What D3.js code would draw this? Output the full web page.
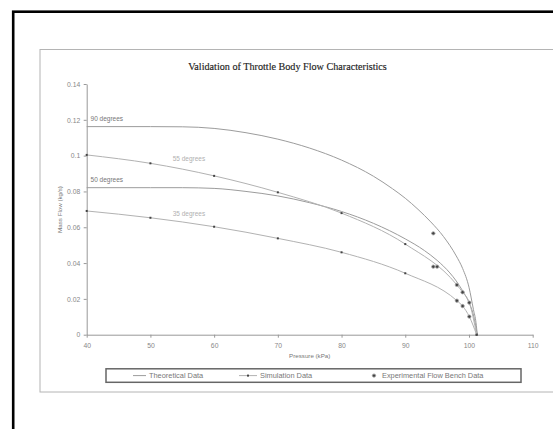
<!DOCTYPE html>
<html>
<head>
<meta charset="utf-8">
<script src="https://cdn.jsdelivr.net/npm/d3@7/dist/d3.min.js"></script>
<style>
  html, body { margin: 0; padding: 0; background: #fff; }
  svg { display: block; }
  text { -webkit-font-smoothing: antialiased; }
</style>
</head>
<body>
<svg id="chart" width="553" height="429"></svg>
<script>
// Pressure (kPa) vs mass flow (kg/s)
const theory90 = [[40,0.1162],[50,0.1162],[55,0.1161],[60,0.1152],[65,0.1128],[70,0.1092],[75,0.1042],[80,0.0975],[85,0.0885],[88,0.0815],[90,0.0762],[92,0.0700],[94,0.0630],[96,0.0548],[98,0.0440],[99,0.0370],[100,0.0265],[100.7,0.0140],[101.1,0.0068],[101.3,0]];
const theory50 = [[40,0.0821],[50,0.0821],[55,0.0821],[60,0.0817],[65,0.0800],[70,0.0775],[75,0.0737],[80,0.0688],[85,0.0622],[90,0.0535],[93,0.0470],[95,0.0415],[97,0.0345],[98,0.0300],[99,0.0245],[100,0.0180],[100.7,0.0110],[101.3,0]];
const simUpper = [[40,0.1004],[50,0.0957],[60,0.0887],[70,0.0795],[80,0.0679],[90,0.0506],[98.1,0.0278],[99,0.0237],[100.05,0.0179],[101.2,0]];
const simLower = [[40,0.0691],[50,0.0653],[60,0.0603],[70,0.0538],[80,0.0460],[90,0.0343],[98.1,0.0190],[99,0.0160],[100.05,0.0101],[101.2,0]];
const experimental = [[94.4,0.0566],[94.4,0.0380],[95.0,0.0380],[98.1,0.0278],[99.0,0.0237],[100.05,0.0179],[98.1,0.0190],[99.0,0.0160],[100.05,0.0101]];

const xTicks = [40,50,60,70,80,90,100,110];
const yTicks = [0,0.02,0.04,0.06,0.08,0.1,0.12,0.14];
const yTickLabels = ["0","0.02","0.04","0.06","0.08","0.1","0.12","0.14"];

// curve annotations: text, anchor pressure, anchor flow, tone
const curveLabels = [
  ["90 degrees", 40.6, 0.1195, "dark"],
  ["55 degrees", 53.5, 0.0970, "light"],
  ["50 degrees", 40.6, 0.0855, "dark"],
  ["35 degrees", 53.5, 0.0665, "light"]
];

const legendItems = ["Theoretical Data", "Simulation Data", "Experimental Flow Bench Data"];

const svg = d3.select("#chart");
const sans = "Arial, 'Liberation Sans', sans-serif";
const theoryColor = "#9c9c9c";
const simColor = "#b2b2b2";
const axisColor = "#999";

// page frame and chart frame
svg.append("rect").attr("x", 13.2).attr("y", 11.7).attr("width", 600).attr("height", 500)
  .attr("fill", "none").attr("stroke", "#000").attr("stroke-width", 2.6);
svg.append("rect").attr("x", 40).attr("y", 49.5).attr("width", 600).attr("height", 342.5)
  .attr("fill", "none").attr("stroke", "#b4b4b4").attr("stroke-width", 1);

const x = d3.scaleLinear().domain([40, 110]).range([86.7, 532.7]);
const y = d3.scaleLinear().domain([0, 0.14]).range([334.7, 84]);

const title = svg.append("text").attr("x", 287.5).attr("y", 69.8).attr("text-anchor", "middle")
  .attr("font-family", "'Liberation Serif', 'Times New Roman', serif")
  .attr("font-size", 10).attr("fill", "#222").attr("stroke", "#222").attr("stroke-width", 0.15)
  .text("Validation of Throttle Body Flow Characteristics");
// keep the title at its set width
const tw = title.node().getComputedTextLength();
title.attr("font-size", 10 * 199 / tw);

// axes
const yAxis = svg.append("g").attr("transform", `translate(${x(40)},0)`)
  .call(d3.axisLeft(y).tickValues(yTicks).tickFormat((d, i) => yTickLabels[i]).tickSize(3).tickSizeOuter(0));
const xAxis = svg.append("g").attr("transform", `translate(0,${y(0)})`)
  .call(d3.axisBottom(x).tickValues(xTicks).tickFormat(d3.format("d")).tickSize(3).tickSizeOuter(0));
[yAxis, xAxis].forEach(g => {
  g.select(".domain").attr("stroke", axisColor);
  g.selectAll(".tick line").attr("stroke", axisColor);
  g.selectAll(".tick text").attr("fill", "#888").attr("font-family", sans).attr("font-size", 6.8);
});
yAxis.selectAll(".tick text").attr("x", -6.5);
xAxis.selectAll(".tick text").attr("y", 8);

svg.append("text").attr("x", 309.7).attr("y", 358).attr("text-anchor", "middle")
  .attr("font-family", sans).attr("font-size", 6.2).attr("fill", "#777").text("Pressure (kPa)");
svg.append("text").attr("transform", `translate(62,209.5) rotate(-90)`).attr("text-anchor", "middle")
  .attr("font-family", sans).attr("font-size", 6.2).attr("fill", "#777").text("Mass Flow (kg/s)");

const line = d3.line().x(d => x(d[0])).y(d => y(d[1])).curve(d3.curveMonotoneX);

[theory90, theory50].forEach(s => {
  svg.append("path").attr("d", line(s)).attr("fill", "none").attr("stroke", theoryColor).attr("stroke-width", 1);
});
[simUpper, simLower].forEach(s => {
  svg.append("path").attr("d", line(s)).attr("fill", "none").attr("stroke", simColor).attr("stroke-width", 1);
  svg.append("g").selectAll("rect").data(s).join("rect")
    .attr("x", d => x(d[0]) - 1).attr("y", d => y(d[1]) - 1)
    .attr("width", 2).attr("height", 2).attr("fill", "#444");
});

svg.append("g").selectAll("circle").data(experimental).join("circle")
  .attr("cx", d => x(d[0])).attr("cy", d => y(d[1])).attr("r", 1.7)
  .attr("fill", "#444").attr("stroke", "#aaa").attr("stroke-width", 0.8);

svg.append("g").selectAll("text").data(curveLabels).join("text")
  .attr("x", d => x(d[1])).attr("y", d => y(d[2]))
  .attr("font-family", sans).attr("font-size", 6.5)
  .attr("fill", d => d[3] === "dark" ? "#777" : "#b0b0b0")
  .text(d => d[0]);

// legend
const lg = svg.append("g");
lg.append("rect").attr("x", 106).attr("y", 368.8).attr("width", 415).attr("height", 13.5)
  .attr("fill", "#fff").attr("stroke", "#666").attr("stroke-width", 1.5);
const ly = 375.6;
lg.append("line").attr("x1", 133).attr("x2", 146).attr("y1", ly).attr("y2", ly).attr("stroke", theoryColor);
lg.append("line").attr("x1", 239).attr("x2", 257).attr("y1", ly).attr("y2", ly).attr("stroke", simColor);
lg.append("rect").attr("x", 248 - 1).attr("y", ly - 1).attr("width", 2).attr("height", 2).attr("fill", "#444");
lg.append("circle").attr("cx", 374).attr("cy", ly).attr("r", 1.7).attr("fill", "#444").attr("stroke", "#aaa").attr("stroke-width", 0.8);
lg.selectAll("text").data(legendItems).join("text")
  .attr("x", (d, i) => [149, 260, 382][i]).attr("y", ly + 2.5)
  .attr("font-family", sans).attr("font-size", 7.4).attr("fill", "#777")
  .text(d => d);
</script>
</body>
</html>
